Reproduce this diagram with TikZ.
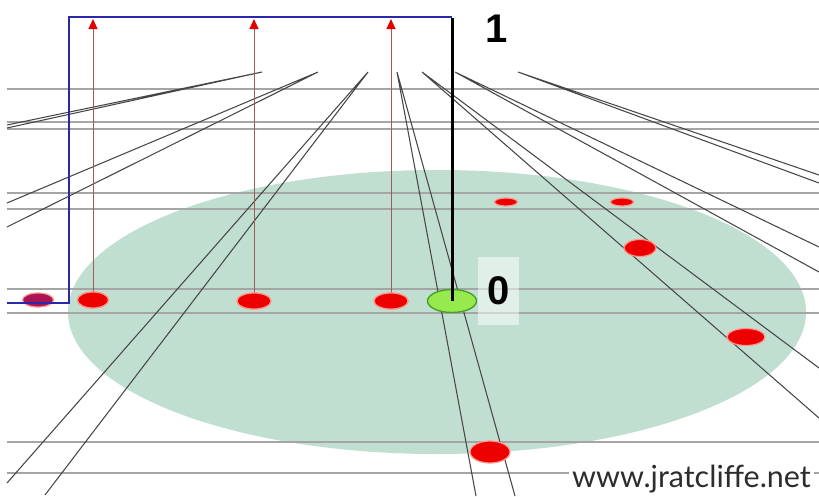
\documentclass[tikz,border=0pt]{standalone}
\usepackage{fontspec}
\setmainfont{Liberation Sans}
\newfontfamily\markfont{Lato}
\usetikzlibrary{shapes.geometric,arrows.meta}

\definecolor{floorgreen}{RGB}{193,223,209}
\definecolor{gridgray}{RGB}{165,165,165}
\definecolor{raygray}{RGB}{70,70,70}
\definecolor{stemred}{RGB}{160,90,90}
\definecolor{dotred}{RGB}{236,0,0}
\definecolor{dothalo}{RGB}{255,150,140}
\definecolor{dotpurple}{RGB}{170,20,85}
\definecolor{frameblue}{RGB}{40,40,168}
\definecolor{eyegreen}{RGB}{150,234,78}
\definecolor{eyeedge}{RGB}{72,160,40}
\definecolor{marktext}{RGB}{45,45,45}

\begin{document}
\begin{tikzpicture}[x=1pt,y=-1pt,
  gridline/.style={gridgray, line width=1.5pt},
  ray/.style={raygray, line width=1.05pt},
  stem/.style={stemred, line width=1pt,
    -{Triangle[width=9pt,length=10pt,color=red!90!black]}},
  dot/.style={ellipse, fill=dotred, draw=dothalo, line width=1.2pt, inner sep=0pt},
  digit/.style={font=\bfseries\fontsize{40}{40}\selectfont, inner sep=2pt}
]
% canvas
\fill[white] (0,0) rectangle (819,496);
\useasboundingbox (0,0) rectangle (819,496);

% ground disc
\fill[floorgreen] (437,312) ellipse [x radius=369, y radius=142];

% horizontal guide lines
\foreach \yy in {89,122,129,193,209,289,313,442,473}
  \draw[gridline] (7,\yy) -- (819,\yy);

% ray origins
\coordinate (va) at (262,72);
\coordinate (vb) at (318,72);
\coordinate (vc) at (368,72);
\coordinate (vd) at (397,72);
\coordinate (ve) at (422,72);
\coordinate (vf) at (455,72);
\coordinate (vg) at (518,72);
% ray ends
\coordinate (ea1) at (7,125);   \coordinate (ea2) at (7,128);
\coordinate (eb1) at (7,203);   \coordinate (eb2) at (7,227);
\coordinate (ec1) at (7,483);   \coordinate (ec2) at (45,495);
\coordinate (ed1) at (476,496); \coordinate (ed2) at (515,496);
\coordinate (ee1) at (819,418); \coordinate (ee2) at (819,368);
\coordinate (ef1) at (819,247); \coordinate (ef2) at (819,272);
\coordinate (eg1) at (819,175); \coordinate (eg2) at (819,183);

\draw[ray] (va) -- (ea1) (va) -- (ea2);
\draw[ray] (vb) -- (eb1) (vb) -- (eb2);
\draw[ray] (vc) -- (ec1) (vc) -- (ec2);
\draw[ray] (vd) -- (ed1) (vd) -- (ed2);
\draw[ray] (ve) -- (ee1) (ve) -- (ee2);
\draw[ray] (vf) -- (ef1) (vf) -- (ef2);
\draw[ray] (vg) -- (eg1) (vg) -- (eg2);

% arrow tips
\coordinate (t1) at (93,19);
\coordinate (t2) at (254,19);
\coordinate (t3) at (391,19);

% dots on the row of the eye
\node[dot, fill=dotpurple, minimum width=31pt, minimum height=14pt] (d0) at (38,300) {};
\node[dot, minimum width=31pt, minimum height=16pt] (d1) at (93,300) {};
\node[dot, minimum width=34pt, minimum height=16pt] (d2) at (254,301) {};
\node[dot, minimum width=34pt, minimum height=16pt] (d3) at (391,301) {};

\draw[stem] (d1.center) -- (t1);
\draw[stem] (d2.center) -- (t2);
\draw[stem] (d3.center) -- (t3);
\node[dot, minimum width=31pt, minimum height=16pt] at (d1.center) {};
\node[dot, minimum width=34pt, minimum height=16pt] at (d2.center) {};
\node[dot, minimum width=34pt, minimum height=16pt] at (d3.center) {};

% scattered dots
\node[dot, minimum width=23pt, minimum height=8pt] (d4) at (506,202) {};
\node[dot, minimum width=23pt, minimum height=8pt] (d5) at (622,202) {};
\node[dot, minimum width=32pt, minimum height=17pt] (d6) at (640,248) {};
\node[dot, minimum width=38pt, minimum height=17pt] (d7) at (746,337) {};
\node[dot, minimum width=40pt, minimum height=22pt] (d8) at (490,452) {};

% eye point
\node[ellipse, fill=eyegreen, draw=eyeedge, line width=1.4pt, inner sep=0pt,
      minimum width=49pt, minimum height=23pt] (eye) at (452,301) {};

% frame
\coordinate (fa) at (7,303);
\coordinate (fb) at (69,303);
\coordinate (fc) at (69,17);
\coordinate (fd) at (452,17);
\draw[frameblue, line width=2.8pt, line join=miter] (fa) -- (fb) -- (fc) -- (fd);
\draw[black, line width=3pt] ([yshift=-1.4pt]fd) -- (eye.center);

% labels
\node[digit] (one) at (497,29) {1};
\node[digit, fill=white, fill opacity=0.5, text opacity=1,
      minimum width=41pt, minimum height=68pt] (zero) at (498.5,291) {0};

\node[fill=white, text=marktext, inner sep=3pt, anchor=base,
      font=\markfont\fontsize{30.5}{30.5}\selectfont] (site) at (691.5,487) {www.jratcliffe.net};
\end{tikzpicture}
\end{document}
